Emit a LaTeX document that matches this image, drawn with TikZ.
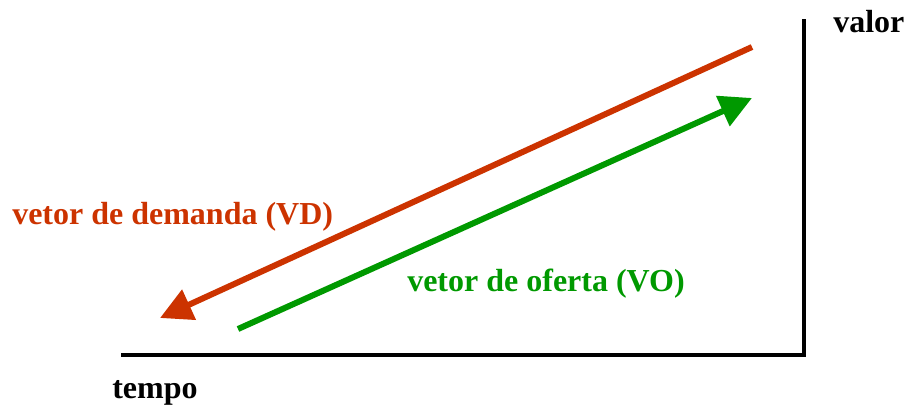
\documentclass[tikz,border=0pt]{standalone}
\usepackage{fontspec}
\setmainfont{Liberation Serif}
\usetikzlibrary{arrows.meta}
\definecolor{vdred}{HTML}{CC3300}
\definecolor{vogreen}{HTML}{009900}
\begin{document}
\begin{tikzpicture}[x=0.75pt,y=-0.75pt,
  axis/.style={line width=3pt,line cap=rect},
  vec/.style={line width=4.5pt,-{Triangle[length=24pt,width=24pt]}},
  lbl/.style={font=\fontsize{24}{28}\selectfont\bfseries,inner sep=0pt,anchor=base west}]
\useasboundingbox (0,0) rectangle (906,409);
\coordinate (o) at (804,355);
\coordinate (xe) at (123,355);
\coordinate (ye) at (804,21);
\draw[axis] (xe) -- (o) -- (ye);
\coordinate (rs) at (752,47);
\coordinate (re) at (160,318);
\coordinate (gs) at (238,329);
\coordinate (ge) at (752,98);
\draw[vec,color=vdred] (rs) -- (re);
\draw[vec,color=vogreen] (gs) -- (ge);
\node[lbl] (valor) at (833,33) {valor};
\node[lbl] (tempo) at (112,398) {tempo};
\node[lbl,text=vdred] (vd) at (12,225) {vetor de demanda (VD)};
\node[lbl,text=vogreen] (vo) at (407,292) {vetor de oferta (VO)};
\end{tikzpicture}
\end{document}
